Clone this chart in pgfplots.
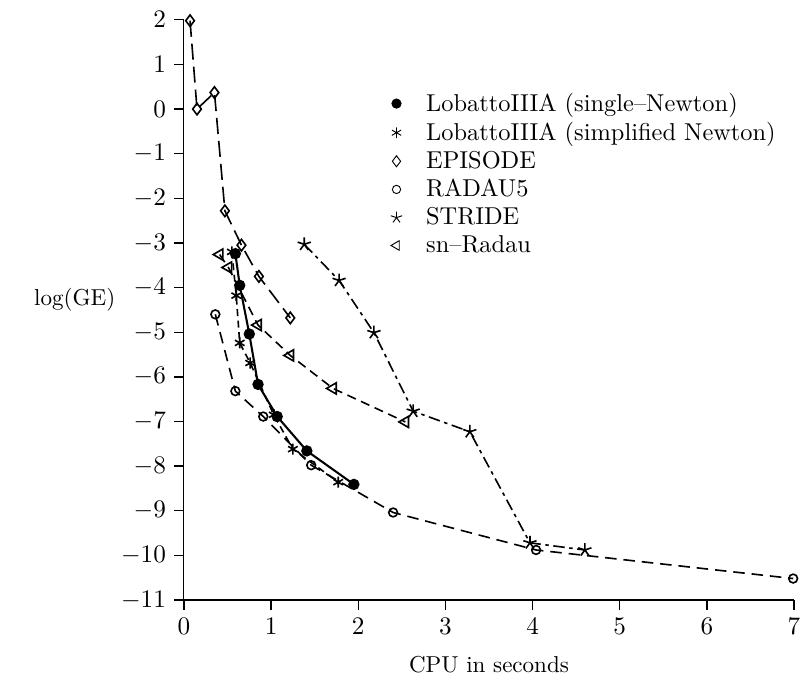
\documentclass[border=0pt]{standalone}
\usepackage{pgfplots}
\pgfplotsset{compat=1.18}

\begin{document}
\begin{tikzpicture}
% fixed page frame, same proportions as the reference
\path[use as bounding box] (-79.9pt,-37.8pt) rectangle (271.5pt,260.6pt);
\begin{axis}[
    at={(0,0)}, anchor=south west,
    scale only axis, width=265pt, height=252pt,
    xmin=0, xmax=7, ymin=-11, ymax=2,
    xtick={0,1,...,7}, ytick={-11,-10,...,2},
    axis x line=bottom, axis y line=left,
    axis line style={-},
    x axis line style={line width=1.1pt},
    tick align=outside, major tick length=4.3pt,
    tick style={black, line width=0.6pt},
    tick label style={font=\fontsize{10.8}{13}\selectfont},
    xlabel={CPU in seconds},
    ylabel={log(GE)},
    xlabel style={at={(axis description cs:0.5,-0.112)}, anchor=center},
    ylabel style={at={(axis description cs:-0.179,0.517)}, rotate=-90, anchor=center},
    legend style={draw=none, fill=none, at={(axis description cs:0.327,0.891)},
        anchor=north west, cells={anchor=west}, font=\fontsize{10.6}{12.7}\selectfont,
        row sep=-0.8pt, column sep=8.4pt},
    clip=false,
]
% legend: marks only
\addlegendimage{only marks, mark=*, mark size=2pt}
\addlegendentry{LobattoIIIA (single--Newton)}
\addlegendimage{only marks, mark=asterisk, mark size=2.3pt}
\addlegendentry{LobattoIIIA (simplified Newton)}
\addlegendimage{only marks, mark=diamond, mark size=2.4pt}
\addlegendentry{EPISODE}
\addlegendimage{only marks, mark=o, mark size=1.8pt}
\addlegendentry{RADAU5}
\addlegendimage{only marks, mark=star, mark size=2.6pt}
\addlegendentry{STRIDE}
\addlegendimage{only marks, mark=triangle, mark size=2.4pt, mark options={rotate=90}}
\addlegendentry{sn--Radau}

% LobattoIIIA (single-Newton)
\addplot[forget plot, black, line width=0.9pt, mark=*, mark size=2pt] coordinates {
  (0.59,-3.24) (0.64,-3.95) (0.75,-5.04) (0.85,-6.17) (1.07,-6.89) (1.41,-7.66) (1.95,-8.41)
};
% LobattoIIIA (simplified Newton)
\addplot[forget plot, black, line width=0.7pt, dash pattern=on 3pt off 2pt, mark=asterisk, mark size=2.4pt, mark options={solid}] coordinates {
  (0.55,-3.2) (0.60,-4.18) (0.64,-5.24) (0.76,-5.69) (1.03,-6.85) (1.25,-7.62) (1.77,-8.36)
};
% EPISODE
\addplot[forget plot, black, line width=0.7pt, dash pattern=on 7pt off 3pt, mark=diamond, mark size=2.5pt, mark options={solid, fill=white}] coordinates {
  (0.07,1.98) (0.15,0.0) (0.35,0.37) (0.47,-2.28) (0.66,-3.05) (0.86,-3.75) (1.22,-4.68)
};
% RADAU5
\addplot[forget plot, black, line width=0.7pt, dash pattern=on 5pt off 3pt, mark=o, mark size=1.9pt, mark options={solid, fill=white}] coordinates {
  (0.36,-4.60) (0.59,-6.32) (0.91,-6.89) (1.46,-7.98) (2.40,-9.04) (4.04,-9.88) (6.99,-10.52)
};
% STRIDE
\addplot[forget plot, black, line width=0.7pt, dash pattern=on 5pt off 2pt on 1.5pt off 2pt, mark=star, mark size=3pt, mark options={solid}] coordinates {
  (1.38,-3.03) (1.78,-3.84) (2.18,-5.01) (2.63,-6.77) (3.28,-7.23) (3.97,-9.72) (4.60,-9.88)
};
% sn-Radau
\addplot[forget plot, black, line width=0.7pt, dash pattern=on 4pt off 2.5pt, mark=triangle, mark size=2.8pt, mark options={solid, rotate=90, fill=white}] coordinates {
  (0.41,-3.26) (0.51,-3.55) (0.85,-4.84) (1.22,-5.52) (1.71,-6.26) (2.54,-7.01)
};
\end{axis}
\end{tikzpicture}
\end{document}
